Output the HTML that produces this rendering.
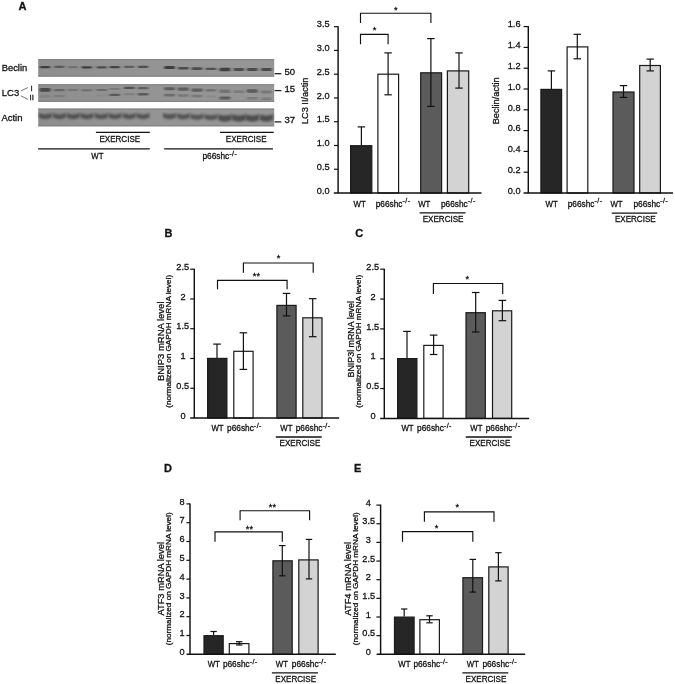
<!DOCTYPE html>
<html lang="en"><head><meta charset="utf-8"><title>Figure</title>
<style>html,body{margin:0;padding:0;background:#fff}body{width:675px;height:684px;overflow:hidden}svg{display:block}text{font-family:"Liberation Sans",Arial,Helvetica,sans-serif;stroke:#111;stroke-width:0.28px}</style>
</head><body>
<svg width="675" height="684" viewBox="0 0 675 684">
<defs>
<filter id="b1" x="-30%" y="-150%" width="160%" height="400%"><feGaussianBlur stdDeviation="1.0 0.75"/></filter>
<filter id="b2" x="-30%" y="-100%" width="160%" height="300%"><feGaussianBlur stdDeviation="0.95 0.9"/></filter>
<filter id="b0" x="-5%" y="-20%" width="110%" height="140%"><feGaussianBlur stdDeviation="0.5"/></filter>
<linearGradient id="sg" x1="0" x2="1" y1="0" y2="0"><stop offset="0" stop-color="#8d8d8d"/><stop offset="0.45" stop-color="#949494"/><stop offset="1" stop-color="#969696"/></linearGradient>
</defs>
<rect width="675" height="684" fill="#fff"/>
<text x="18.6" y="9.8" font-size="11" text-anchor="start" font-weight="bold" fill="#111" >A</text>
<text x="164.4" y="236.8" font-size="11" text-anchor="start" font-weight="bold" fill="#111" >B</text>
<text x="355.2" y="236.8" font-size="11" text-anchor="start" font-weight="bold" fill="#111" >C</text>
<text x="164" y="471.9" font-size="11" text-anchor="start" font-weight="bold" fill="#111" >D</text>
<text x="354" y="471.9" font-size="11" text-anchor="start" font-weight="bold" fill="#111" >E</text>
<g filter="url(#b0)">
<rect x="38.2" y="59.2" width="236" height="17.4" fill="url(#sg)"/>
<rect x="38.2" y="84.3" width="236" height="17.5" fill="url(#sg)"/>
<rect x="38.2" y="108.6" width="236" height="17.7" fill="url(#sg)"/>
<rect x="38.2" y="59.2" width="236" height="0.9" fill="#7c7c7c"/>
<rect x="38.2" y="75.7" width="236" height="0.9" fill="#7c7c7c"/>
<rect x="38.2" y="84.3" width="236" height="0.9" fill="#7c7c7c"/>
<rect x="38.2" y="100.9" width="236" height="0.9" fill="#7c7c7c"/>
<rect x="38.2" y="108.6" width="236" height="0.9" fill="#7c7c7c"/>
<rect x="38.2" y="125.4" width="236" height="0.9" fill="#7c7c7c"/>
</g>
<rect x="39.75" y="66.1" width="10.5" height="2.2" rx="1.1" fill="#1c1c1c" opacity="0.71" filter="url(#b1)"/>
<rect x="54.05" y="65.7" width="10.5" height="2.2" rx="1.1" fill="#1c1c1c" opacity="0.46" filter="url(#b1)"/>
<rect x="67.55" y="66.1" width="10.5" height="2.2" rx="1.1" fill="#1c1c1c" opacity="0.25" filter="url(#b1)"/>
<rect x="81.55" y="66.3" width="10.5" height="2.2" rx="1.1" fill="#1c1c1c" opacity="0.71" filter="url(#b1)"/>
<rect x="96.45" y="66.2" width="10.5" height="2.2" rx="1.1" fill="#1c1c1c" opacity="0.58" filter="url(#b1)"/>
<rect x="109.55" y="66.1" width="10.5" height="2.2" rx="1.1" fill="#1c1c1c" opacity="0.66" filter="url(#b1)"/>
<rect x="123.95" y="65.7" width="10.5" height="2.2" rx="1.1" fill="#1c1c1c" opacity="0.46" filter="url(#b1)"/>
<rect x="137.85" y="65.7" width="10.5" height="2.2" rx="1.1" fill="#1c1c1c" opacity="0.58" filter="url(#b1)"/>
<rect x="164.1" y="66.1" width="10.8" height="3" rx="1.2" fill="#1c1c1c" opacity="0.72" filter="url(#b1)"/>
<rect x="177.9" y="66.9" width="10.8" height="2.6" rx="1.2" fill="#1c1c1c" opacity="0.6" filter="url(#b1)"/>
<rect x="191.6" y="67.3" width="10.8" height="2.6" rx="1.2" fill="#1c1c1c" opacity="0.6" filter="url(#b1)"/>
<rect x="205.5" y="67.75" width="10.8" height="2.3" rx="1.15" fill="#1c1c1c" opacity="0.56" filter="url(#b1)"/>
<rect x="219.5" y="67.7" width="10.8" height="3.6" rx="1.2" fill="#1c1c1c" opacity="0.7" filter="url(#b1)"/>
<rect x="233.4" y="68.1" width="10.8" height="2.8" rx="1.2" fill="#1c1c1c" opacity="0.58" filter="url(#b1)"/>
<rect x="246.9" y="68" width="10.8" height="3" rx="1.2" fill="#1c1c1c" opacity="0.62" filter="url(#b1)"/>
<rect x="261" y="68" width="10.8" height="3" rx="1.2" fill="#1c1c1c" opacity="0.62" filter="url(#b1)"/>
<rect x="39.6" y="87.95" width="10.8" height="3.7" rx="1.2" fill="#1c1c1c" opacity="0.6" filter="url(#b1)"/>
<rect x="53.9" y="89.1" width="10.8" height="2.2" rx="1.1" fill="#1c1c1c" opacity="0.36" filter="url(#b1)"/>
<rect x="67.4" y="89.1" width="10.8" height="2" rx="1" fill="#1c1c1c" opacity="0.22" filter="url(#b1)"/>
<rect x="81.4" y="89.2" width="10.8" height="2" rx="1" fill="#1c1c1c" opacity="0.3" filter="url(#b1)"/>
<rect x="96.3" y="88.9" width="10.8" height="2" rx="1" fill="#1c1c1c" opacity="0.33" filter="url(#b1)"/>
<rect x="109.4" y="87.9" width="10.8" height="1.8" rx="0.9" fill="#1c1c1c" opacity="0.22" filter="url(#b1)"/>
<rect x="123.8" y="86.7" width="10.8" height="2.4" rx="1.2" fill="#1c1c1c" opacity="0.54" filter="url(#b1)"/>
<rect x="137.7" y="87.1" width="10.8" height="2.2" rx="1.1" fill="#1c1c1c" opacity="0.43" filter="url(#b1)"/>
<rect x="39.6" y="95.3" width="10.8" height="2" rx="1" fill="#1c1c1c" opacity="0.13" filter="url(#b1)"/>
<rect x="53.9" y="94.9" width="10.8" height="2" rx="1" fill="#1c1c1c" opacity="0.16" filter="url(#b1)"/>
<rect x="96.3" y="94.7" width="10.8" height="1.8" rx="0.9" fill="#1c1c1c" opacity="0.06" filter="url(#b1)"/>
<rect x="109.4" y="93.8" width="10.8" height="2.2" rx="1.1" fill="#1c1c1c" opacity="0.47" filter="url(#b1)"/>
<rect x="123.8" y="93.2" width="10.8" height="2" rx="1" fill="#1c1c1c" opacity="0.18" filter="url(#b1)"/>
<rect x="137.7" y="93" width="10.8" height="2.4" rx="1.2" fill="#1c1c1c" opacity="0.47" filter="url(#b1)"/>
<rect x="164" y="87.2" width="11" height="3" rx="1.2" fill="#1c1c1c" opacity="0.45" filter="url(#b1)"/>
<rect x="177.8" y="87.6" width="11" height="3.2" rx="1.2" fill="#1c1c1c" opacity="0.45" filter="url(#b1)"/>
<rect x="191.5" y="88.6" width="11" height="3.2" rx="1.2" fill="#1c1c1c" opacity="0.45" filter="url(#b1)"/>
<rect x="205.4" y="89.1" width="11" height="2.4" rx="1.2" fill="#1c1c1c" opacity="0.28" filter="url(#b1)"/>
<rect x="219.4" y="89.6" width="11" height="3.4" rx="1.2" fill="#1c1c1c" opacity="0.27" filter="url(#b1)"/>
<rect x="233.3" y="90.3" width="11" height="2.6" rx="1.2" fill="#1c1c1c" opacity="0.2" filter="url(#b1)"/>
<rect x="246.8" y="89.3" width="11" height="3.4" rx="1.2" fill="#1c1c1c" opacity="0.48" filter="url(#b1)"/>
<rect x="260.9" y="90.6" width="11" height="2.8" rx="1.2" fill="#1c1c1c" opacity="0.24" filter="url(#b1)"/>
<rect x="164" y="93.8" width="11" height="2.6" rx="1.2" fill="#1c1c1c" opacity="0.32" filter="url(#b1)"/>
<rect x="177.8" y="94.3" width="11" height="2.4" rx="1.2" fill="#1c1c1c" opacity="0.23" filter="url(#b1)"/>
<rect x="191.5" y="94.8" width="11" height="2.4" rx="1.2" fill="#1c1c1c" opacity="0.24" filter="url(#b1)"/>
<rect x="205.4" y="95.5" width="11" height="2" rx="1" fill="#1c1c1c" opacity="0.09" filter="url(#b1)"/>
<rect x="219.4" y="96.5" width="11" height="3" rx="1.2" fill="#1c1c1c" opacity="0.46" filter="url(#b1)"/>
<rect x="246.8" y="97" width="11" height="2.6" rx="1.2" fill="#1c1c1c" opacity="0.22" filter="url(#b1)"/>
<rect x="260.9" y="97.4" width="11" height="2.6" rx="1.2" fill="#1c1c1c" opacity="0.2" filter="url(#b1)"/>
<path d="M38.8 113.1 Q45.3 115.7 51.8 113.1 L51.8 117.6 Q45.3 120.9 38.8 117.6 Z" fill="#262626" opacity="0.58" filter="url(#b2)"/>
<path d="M52.9 113.1 Q59.4 115.7 65.9 113.1 L65.9 117.6 Q59.4 120.9 52.9 117.6 Z" fill="#262626" opacity="0.58" filter="url(#b2)"/>
<path d="M66.7 113.1 Q73.2 115.7 79.7 113.1 L79.7 117.6 Q73.2 120.9 66.7 117.6 Z" fill="#262626" opacity="0.58" filter="url(#b2)"/>
<path d="M80.5 113.1 Q87 115.7 93.5 113.1 L93.5 117.6 Q87 120.9 80.5 117.6 Z" fill="#262626" opacity="0.58" filter="url(#b2)"/>
<path d="M94.7 113.1 Q101.2 115.7 107.7 113.1 L107.7 117.6 Q101.2 120.9 94.7 117.6 Z" fill="#262626" opacity="0.58" filter="url(#b2)"/>
<path d="M108.5 113.1 Q115 115.7 121.5 113.1 L121.5 117.6 Q115 120.9 108.5 117.6 Z" fill="#262626" opacity="0.58" filter="url(#b2)"/>
<path d="M122.7 113.1 Q129.2 115.7 135.7 113.1 L135.7 117.6 Q129.2 120.9 122.7 117.6 Z" fill="#262626" opacity="0.58" filter="url(#b2)"/>
<path d="M136.5 113.1 Q143 115.7 149.5 113.1 L149.5 117.6 Q143 120.9 136.5 117.6 Z" fill="#262626" opacity="0.58" filter="url(#b2)"/>
<path d="M163 113 Q169.5 115.6 176 113 L176 117.5 Q169.5 120.8 163 117.5 Z" fill="#262626" opacity="0.58" filter="url(#b2)"/>
<path d="M176.8 113.35 Q183.3 115.95 189.8 113.35 L189.8 117.85 Q183.3 121.15 176.8 117.85 Z" fill="#262626" opacity="0.58" filter="url(#b2)"/>
<path d="M190.5 113.7 Q197 116.3 203.5 113.7 L203.5 118.2 Q197 121.5 190.5 118.2 Z" fill="#262626" opacity="0.58" filter="url(#b2)"/>
<path d="M204.4 114.05 Q210.9 116.65 217.4 114.05 L217.4 118.55 Q210.9 121.85 204.4 118.55 Z" fill="#262626" opacity="0.58" filter="url(#b2)"/>
<path d="M218.2 114.3 Q224.9 116.9 231.6 114.3 L231.6 120 Q224.9 123.3 218.2 120 Z" fill="#262626" opacity="0.64" filter="url(#b2)"/>
<path d="M232.1 114.3 Q238.8 116.9 245.5 114.3 L245.5 120 Q238.8 123.3 232.1 120 Z" fill="#262626" opacity="0.64" filter="url(#b2)"/>
<path d="M245.6 114.3 Q252.3 116.9 259 114.3 L259 120 Q252.3 123.3 245.6 120 Z" fill="#262626" opacity="0.64" filter="url(#b2)"/>
<path d="M259.7 114.3 Q266.4 116.9 273.1 114.3 L273.1 120 Q266.4 123.3 259.7 120 Z" fill="#262626" opacity="0.64" filter="url(#b2)"/>
<line x1="274.6" y1="73.7" x2="281.4" y2="73.7" stroke="#222" stroke-width="1.3" />
<text x="284.5" y="74.8" font-size="9.6" text-anchor="start" font-weight="normal" fill="#111" >50</text>
<line x1="274.6" y1="90.6" x2="281.4" y2="90.6" stroke="#222" stroke-width="1.3" />
<text x="284.5" y="91.7" font-size="9.6" text-anchor="start" font-weight="normal" fill="#111" >15</text>
<line x1="274.6" y1="121.9" x2="281.4" y2="121.9" stroke="#222" stroke-width="1.3" />
<text x="284.5" y="123" font-size="9.6" text-anchor="start" font-weight="normal" fill="#111" >37</text>
<text x="1.7" y="71.3" font-size="9.4" text-anchor="start" font-weight="normal" fill="#111" >Beclin</text>
<text x="1.8" y="95.8" font-size="9.5" text-anchor="start" font-weight="normal" fill="#111" >LC3</text>
<text x="1.4" y="120.7" font-size="9.5" text-anchor="start" font-weight="normal" fill="#111" >Actin</text>
<line x1="20.9" y1="91" x2="28" y2="87.5" stroke="#444" stroke-width="0.75" />
<line x1="20.9" y1="95.8" x2="28" y2="99.4" stroke="#444" stroke-width="0.75" />
<text x="30.6" y="91.2" font-size="7.8" text-anchor="start" font-weight="normal" fill="#111" stroke-width="0.55">I</text>
<text x="29.6" y="99.9" font-size="7.8" text-anchor="start" font-weight="normal" fill="#111" stroke-width="0.55">II</text>
<line x1="95.9" y1="132.3" x2="149.8" y2="132.3" stroke="#111" stroke-width="1.3" />
<text x="119.8" y="142.3" font-size="8.5" text-anchor="middle" textLength="40.8" lengthAdjust="spacingAndGlyphs" fill="#111">EXERCISE</text>
<line x1="220.1" y1="132.3" x2="273.7" y2="132.3" stroke="#111" stroke-width="1.3" />
<text x="246.2" y="142.3" font-size="8.5" text-anchor="middle" textLength="40.8" lengthAdjust="spacingAndGlyphs" fill="#111">EXERCISE</text>
<line x1="38.1" y1="148.9" x2="149.8" y2="148.9" stroke="#111" stroke-width="1.3" />
<line x1="164.2" y1="148.9" x2="272.9" y2="148.9" stroke="#111" stroke-width="1.3" />
<text x="91.3" y="158.7" font-size="8.6" textLength="12.2" lengthAdjust="spacingAndGlyphs" fill="#111">WT</text>
<text x="202.5" y="158.7" font-size="8.3" text-anchor="start" fill="#111">p66shc<tspan font-size="7" dy="-3.1" dx="0" letter-spacing="0.45">-/-</tspan></text>
<rect x="350.6" y="145.7" width="21.2" height="47.3" fill="#262626" stroke="#1a1a1a" stroke-width="1.2"/>
<rect x="377.9" y="74.2" width="20.7" height="118.8" fill="#ffffff" stroke="#1a1a1a" stroke-width="1.2"/>
<rect x="420.7" y="72.8" width="20.9" height="120.2" fill="#5b5b5b" stroke="#1a1a1a" stroke-width="1.2"/>
<rect x="447.4" y="70.9" width="21.3" height="122.1" fill="#d3d3d3" stroke="#1a1a1a" stroke-width="1.2"/>
<line x1="361.4" y1="126.9" x2="361.4" y2="145.2" stroke="#111" stroke-width="1.2" />
<line x1="357.7" y1="126.9" x2="365.1" y2="126.9" stroke="#111" stroke-width="1.2" />
<line x1="388.1" y1="52.9" x2="388.1" y2="94.8" stroke="#111" stroke-width="1.2" />
<line x1="384.4" y1="52.9" x2="391.8" y2="52.9" stroke="#111" stroke-width="1.2" />
<line x1="384.4" y1="94.8" x2="391.8" y2="94.8" stroke="#111" stroke-width="1.2" />
<line x1="430.9" y1="38.6" x2="430.9" y2="106.4" stroke="#111" stroke-width="1.2" />
<line x1="427.2" y1="38.6" x2="434.6" y2="38.6" stroke="#111" stroke-width="1.2" />
<line x1="427.2" y1="106.4" x2="434.6" y2="106.4" stroke="#111" stroke-width="1.2" />
<line x1="459" y1="52.9" x2="459" y2="88.1" stroke="#111" stroke-width="1.2" />
<line x1="455.3" y1="52.9" x2="462.7" y2="52.9" stroke="#111" stroke-width="1.2" />
<line x1="455.3" y1="88.1" x2="462.7" y2="88.1" stroke="#111" stroke-width="1.2" />
<line x1="338.1" y1="26.18" x2="338.1" y2="193" stroke="#111" stroke-width="1.45" />
<line x1="333.8" y1="193" x2="481.5" y2="193" stroke="#111" stroke-width="1.45" />
<text x="329.6" y="193.7" font-size="9.2" text-anchor="end" font-weight="normal" fill="#111" >0.0</text>
<line x1="334" y1="169.24" x2="338.1" y2="169.24" stroke="#111" stroke-width="1.2" />
<text x="329.6" y="169.94" font-size="9.2" text-anchor="end" font-weight="normal" fill="#111" >0.5</text>
<line x1="334" y1="145.48" x2="338.1" y2="145.48" stroke="#111" stroke-width="1.2" />
<text x="329.6" y="146.18" font-size="9.2" text-anchor="end" font-weight="normal" fill="#111" >1.0</text>
<line x1="334" y1="121.72" x2="338.1" y2="121.72" stroke="#111" stroke-width="1.2" />
<text x="329.6" y="122.42" font-size="9.2" text-anchor="end" font-weight="normal" fill="#111" >1.5</text>
<line x1="334" y1="97.96" x2="338.1" y2="97.96" stroke="#111" stroke-width="1.2" />
<text x="329.6" y="98.66" font-size="9.2" text-anchor="end" font-weight="normal" fill="#111" >2.0</text>
<line x1="334" y1="74.2" x2="338.1" y2="74.2" stroke="#111" stroke-width="1.2" />
<text x="329.6" y="74.9" font-size="9.2" text-anchor="end" font-weight="normal" fill="#111" >2.5</text>
<line x1="334" y1="50.44" x2="338.1" y2="50.44" stroke="#111" stroke-width="1.2" />
<text x="329.6" y="51.14" font-size="9.2" text-anchor="end" font-weight="normal" fill="#111" >3.0</text>
<line x1="334" y1="26.68" x2="338.1" y2="26.68" stroke="#111" stroke-width="1.2" />
<text x="329.6" y="27.38" font-size="9.2" text-anchor="end" font-weight="normal" fill="#111" >3.5</text>
<path d="M360.5 23.1 V13.2 H430.9 V23.1" fill="none" stroke="#111" stroke-width="1.15"/>
<text x="395.7" y="13.28" font-size="9.2" text-anchor="middle" font-weight="normal" fill="#111" >*</text>
<path d="M360.5 44.2 V34.3 H388.1 V44.2" fill="none" stroke="#111" stroke-width="1.15"/>
<text x="374.6" y="32.98" font-size="9.2" text-anchor="middle" font-weight="normal" fill="#111" >*</text>
<text transform="translate(307.7 100.8) rotate(-90)" font-size="9.8" text-anchor="middle" fill="#111" textLength="46.6" lengthAdjust="spacingAndGlyphs">LC3 II/actin</text>
<text x="353.5" y="206.5" font-size="8.6" textLength="12.2" lengthAdjust="spacingAndGlyphs" fill="#111">WT</text>
<text x="375.7" y="206.5" font-size="8.3" text-anchor="start" fill="#111">p66shc<tspan font-size="7" dy="-3.1" dx="0" letter-spacing="0.45">-/-</tspan></text>
<text x="418.2" y="206.5" font-size="8.6" textLength="12.2" lengthAdjust="spacingAndGlyphs" fill="#111">WT</text>
<text x="441" y="206.5" font-size="8.3" text-anchor="start" fill="#111">p66shc<tspan font-size="7" dy="-3.1" dx="0" letter-spacing="0.45">-/-</tspan></text>
<line x1="419.6" y1="212.9" x2="465.5" y2="212.9" stroke="#111" stroke-width="1.3" />
<text x="443.1" y="222" font-size="8.5" text-anchor="middle" textLength="40.8" lengthAdjust="spacingAndGlyphs" fill="#111">EXERCISE</text>
<rect x="540.9" y="89.4" width="20.7" height="103.6" fill="#262626" stroke="#1a1a1a" stroke-width="1.2"/>
<rect x="567.1" y="46.9" width="20.7" height="146.1" fill="#ffffff" stroke="#1a1a1a" stroke-width="1.2"/>
<rect x="613" y="92" width="21" height="101" fill="#5b5b5b" stroke="#1a1a1a" stroke-width="1.2"/>
<rect x="639.7" y="65.5" width="20.7" height="127.5" fill="#d3d3d3" stroke="#1a1a1a" stroke-width="1.2"/>
<line x1="551.4" y1="70.9" x2="551.4" y2="88.9" stroke="#111" stroke-width="1.2" />
<line x1="547.7" y1="70.9" x2="555.1" y2="70.9" stroke="#111" stroke-width="1.2" />
<line x1="577.3" y1="34.3" x2="577.3" y2="58.8" stroke="#111" stroke-width="1.2" />
<line x1="573.6" y1="34.3" x2="581" y2="34.3" stroke="#111" stroke-width="1.2" />
<line x1="573.6" y1="58.8" x2="581" y2="58.8" stroke="#111" stroke-width="1.2" />
<line x1="623.5" y1="85.6" x2="623.5" y2="97.4" stroke="#111" stroke-width="1.2" />
<line x1="619.8" y1="85.6" x2="627.2" y2="85.6" stroke="#111" stroke-width="1.2" />
<line x1="619.8" y1="97.4" x2="627.2" y2="97.4" stroke="#111" stroke-width="1.2" />
<line x1="650.2" y1="59.1" x2="650.2" y2="70.9" stroke="#111" stroke-width="1.2" />
<line x1="646.5" y1="59.1" x2="653.9" y2="59.1" stroke="#111" stroke-width="1.2" />
<line x1="646.5" y1="70.9" x2="653.9" y2="70.9" stroke="#111" stroke-width="1.2" />
<line x1="528.3" y1="26.1" x2="528.3" y2="193" stroke="#111" stroke-width="1.45" />
<line x1="523.6" y1="193" x2="673" y2="193" stroke="#111" stroke-width="1.45" />
<text x="520.5" y="193.7" font-size="9.2" text-anchor="end" font-weight="normal" fill="#111" >0.0</text>
<line x1="523.6" y1="172.2" x2="528.3" y2="172.2" stroke="#111" stroke-width="1.2" />
<text x="520.5" y="172.9" font-size="9.2" text-anchor="end" font-weight="normal" fill="#111" >0.2</text>
<line x1="523.6" y1="151.4" x2="528.3" y2="151.4" stroke="#111" stroke-width="1.2" />
<text x="520.5" y="152.1" font-size="9.2" text-anchor="end" font-weight="normal" fill="#111" >0.4</text>
<line x1="523.6" y1="130.6" x2="528.3" y2="130.6" stroke="#111" stroke-width="1.2" />
<text x="520.5" y="131.3" font-size="9.2" text-anchor="end" font-weight="normal" fill="#111" >0.6</text>
<line x1="523.6" y1="109.8" x2="528.3" y2="109.8" stroke="#111" stroke-width="1.2" />
<text x="520.5" y="110.5" font-size="9.2" text-anchor="end" font-weight="normal" fill="#111" >0.8</text>
<line x1="523.6" y1="89" x2="528.3" y2="89" stroke="#111" stroke-width="1.2" />
<text x="520.5" y="89.7" font-size="9.2" text-anchor="end" font-weight="normal" fill="#111" >1.0</text>
<line x1="523.6" y1="68.2" x2="528.3" y2="68.2" stroke="#111" stroke-width="1.2" />
<text x="520.5" y="68.9" font-size="9.2" text-anchor="end" font-weight="normal" fill="#111" >1.2</text>
<line x1="523.6" y1="47.4" x2="528.3" y2="47.4" stroke="#111" stroke-width="1.2" />
<text x="520.5" y="48.1" font-size="9.2" text-anchor="end" font-weight="normal" fill="#111" >1.4</text>
<line x1="523.6" y1="26.6" x2="528.3" y2="26.6" stroke="#111" stroke-width="1.2" />
<text x="520.5" y="27.3" font-size="9.2" text-anchor="end" font-weight="normal" fill="#111" >1.6</text>
<text transform="translate(498.5 100.8) rotate(-90)" font-size="9.8" text-anchor="middle" fill="#111" textLength="47" lengthAdjust="spacingAndGlyphs">Beclin/actin</text>
<text x="545.5" y="206.5" font-size="8.6" textLength="12.2" lengthAdjust="spacingAndGlyphs" fill="#111">WT</text>
<text x="567.7" y="206.5" font-size="8.3" text-anchor="start" fill="#111">p66shc<tspan font-size="7" dy="-3.1" dx="0" letter-spacing="0.45">-/-</tspan></text>
<text x="610.4" y="206.5" font-size="8.6" textLength="12.2" lengthAdjust="spacingAndGlyphs" fill="#111">WT</text>
<text x="633.5" y="206.5" font-size="8.3" text-anchor="start" fill="#111">p66shc<tspan font-size="7" dy="-3.1" dx="0" letter-spacing="0.45">-/-</tspan></text>
<line x1="611.7" y1="213.1" x2="657.2" y2="213.1" stroke="#111" stroke-width="1.3" />
<text x="635.3" y="222" font-size="8.5" text-anchor="middle" textLength="40.8" lengthAdjust="spacingAndGlyphs" fill="#111">EXERCISE</text>
<rect x="207.6" y="358.4" width="19.3" height="59.6" fill="#262626" stroke="#1a1a1a" stroke-width="1.2"/>
<rect x="233.8" y="351.3" width="19.3" height="66.7" fill="#ffffff" stroke="#1a1a1a" stroke-width="1.2"/>
<rect x="276.9" y="305.4" width="19.2" height="112.6" fill="#5b5b5b" stroke="#1a1a1a" stroke-width="1.2"/>
<rect x="302.8" y="317.8" width="19.2" height="100.2" fill="#d3d3d3" stroke="#1a1a1a" stroke-width="1.2"/>
<line x1="217" y1="344.1" x2="217" y2="357.9" stroke="#111" stroke-width="1.2" />
<line x1="213.2" y1="344.1" x2="220.8" y2="344.1" stroke="#111" stroke-width="1.2" />
<line x1="243.4" y1="332.8" x2="243.4" y2="369.4" stroke="#111" stroke-width="1.2" />
<line x1="239.6" y1="332.8" x2="247.2" y2="332.8" stroke="#111" stroke-width="1.2" />
<line x1="239.6" y1="369.4" x2="247.2" y2="369.4" stroke="#111" stroke-width="1.2" />
<line x1="286.5" y1="293.4" x2="286.5" y2="315.9" stroke="#111" stroke-width="1.2" />
<line x1="282.7" y1="293.4" x2="290.3" y2="293.4" stroke="#111" stroke-width="1.2" />
<line x1="282.7" y1="315.9" x2="290.3" y2="315.9" stroke="#111" stroke-width="1.2" />
<line x1="312.7" y1="298.7" x2="312.7" y2="336.7" stroke="#111" stroke-width="1.2" />
<line x1="308.9" y1="298.7" x2="316.5" y2="298.7" stroke="#111" stroke-width="1.2" />
<line x1="308.9" y1="336.7" x2="316.5" y2="336.7" stroke="#111" stroke-width="1.2" />
<line x1="194.3" y1="268.7" x2="194.3" y2="418" stroke="#111" stroke-width="1.45" />
<line x1="190.2" y1="418" x2="339.1" y2="418" stroke="#111" stroke-width="1.45" />
<text x="185.7" y="418.7" font-size="9.2" text-anchor="end" font-weight="normal" fill="#111" >0</text>
<line x1="190.2" y1="388.24" x2="194.3" y2="388.24" stroke="#111" stroke-width="1.2" />
<text x="189.1" y="388.94" font-size="9.2" text-anchor="end" font-weight="normal" fill="#111" >0.5</text>
<line x1="190.2" y1="358.48" x2="194.3" y2="358.48" stroke="#111" stroke-width="1.2" />
<text x="185.7" y="359.18" font-size="9.2" text-anchor="end" font-weight="normal" fill="#111" >1</text>
<line x1="190.2" y1="328.72" x2="194.3" y2="328.72" stroke="#111" stroke-width="1.2" />
<text x="189.1" y="329.42" font-size="9.2" text-anchor="end" font-weight="normal" fill="#111" >1.5</text>
<line x1="190.2" y1="298.96" x2="194.3" y2="298.96" stroke="#111" stroke-width="1.2" />
<text x="185.7" y="299.66" font-size="9.2" text-anchor="end" font-weight="normal" fill="#111" >2</text>
<line x1="190.2" y1="269.2" x2="194.3" y2="269.2" stroke="#111" stroke-width="1.2" />
<text x="189.1" y="269.9" font-size="9.2" text-anchor="end" font-weight="normal" fill="#111" >2.5</text>
<text transform="translate(164 341.3) rotate(-90)" font-size="9.7" text-anchor="middle" fill="#111" textLength="79.6" lengthAdjust="spacingAndGlyphs">BNIP3 mRNA level</text>
<text transform="translate(171.3 341.3) rotate(-90)" font-size="7.7" text-anchor="middle" fill="#111" textLength="132.9" lengthAdjust="spacingAndGlyphs">(normalized on GAPDH mRNA level)</text>
<path d="M243.4 272.8 V263 H313.2 V272.8" fill="none" stroke="#111" stroke-width="1.15"/>
<text x="278.6" y="261.38" font-size="9.2" text-anchor="middle" font-weight="normal" fill="#111" >*</text>
<path d="M217.5 289.2 V280.4 H287.1 V289.2" fill="none" stroke="#111" stroke-width="1.15"/>
<text x="256.4" y="278.78" font-size="9.2" text-anchor="middle" font-weight="normal" fill="#111" >**</text>
<text x="211.4" y="431.3" font-size="8.6" textLength="12.2" lengthAdjust="spacingAndGlyphs" fill="#111">WT</text>
<text x="227.1" y="431.3" font-size="8.3" text-anchor="start" fill="#111">p66shc<tspan font-size="7" dy="-3.1" dx="0" letter-spacing="0.45">-/-</tspan></text>
<text x="280.3" y="431.3" font-size="8.6" textLength="12.2" lengthAdjust="spacingAndGlyphs" fill="#111">WT</text>
<text x="295.7" y="431.3" font-size="8.3" text-anchor="start" fill="#111">p66shc<tspan font-size="7" dy="-3.1" dx="0" letter-spacing="0.45">-/-</tspan></text>
<line x1="275.8" y1="437" x2="321.7" y2="437" stroke="#111" stroke-width="1.3" />
<text x="299.9" y="446" font-size="8.5" text-anchor="middle" textLength="40.8" lengthAdjust="spacingAndGlyphs" fill="#111">EXERCISE</text>
<rect x="397.6" y="358.6" width="19.3" height="59.8" fill="#262626" stroke="#1a1a1a" stroke-width="1.2"/>
<rect x="423.8" y="345.4" width="19.3" height="73" fill="#ffffff" stroke="#1a1a1a" stroke-width="1.2"/>
<rect x="466" y="312.7" width="19.3" height="105.7" fill="#5b5b5b" stroke="#1a1a1a" stroke-width="1.2"/>
<rect x="492.5" y="310.8" width="19.2" height="107.6" fill="#d3d3d3" stroke="#1a1a1a" stroke-width="1.2"/>
<line x1="407" y1="331.4" x2="407" y2="358.1" stroke="#111" stroke-width="1.2" />
<line x1="403.2" y1="331.4" x2="410.8" y2="331.4" stroke="#111" stroke-width="1.2" />
<line x1="433.6" y1="335.1" x2="433.6" y2="354.5" stroke="#111" stroke-width="1.2" />
<line x1="429.8" y1="335.1" x2="437.4" y2="335.1" stroke="#111" stroke-width="1.2" />
<line x1="429.8" y1="354.5" x2="437.4" y2="354.5" stroke="#111" stroke-width="1.2" />
<line x1="475.7" y1="292.5" x2="475.7" y2="332" stroke="#111" stroke-width="1.2" />
<line x1="471.9" y1="292.5" x2="479.5" y2="292.5" stroke="#111" stroke-width="1.2" />
<line x1="471.9" y1="332" x2="479.5" y2="332" stroke="#111" stroke-width="1.2" />
<line x1="502.4" y1="300.4" x2="502.4" y2="320.7" stroke="#111" stroke-width="1.2" />
<line x1="498.6" y1="300.4" x2="506.2" y2="300.4" stroke="#111" stroke-width="1.2" />
<line x1="498.6" y1="320.7" x2="506.2" y2="320.7" stroke="#111" stroke-width="1.2" />
<line x1="384.3" y1="268.7" x2="384.3" y2="418.4" stroke="#111" stroke-width="1.45" />
<line x1="380.2" y1="418.4" x2="529.1" y2="418.4" stroke="#111" stroke-width="1.45" />
<text x="375.7" y="419.1" font-size="9.2" text-anchor="end" font-weight="normal" fill="#111" >0</text>
<line x1="380.2" y1="388.56" x2="384.3" y2="388.56" stroke="#111" stroke-width="1.2" />
<text x="379.1" y="389.26" font-size="9.2" text-anchor="end" font-weight="normal" fill="#111" >0.5</text>
<line x1="380.2" y1="358.72" x2="384.3" y2="358.72" stroke="#111" stroke-width="1.2" />
<text x="375.7" y="359.42" font-size="9.2" text-anchor="end" font-weight="normal" fill="#111" >1</text>
<line x1="380.2" y1="328.88" x2="384.3" y2="328.88" stroke="#111" stroke-width="1.2" />
<text x="379.1" y="329.58" font-size="9.2" text-anchor="end" font-weight="normal" fill="#111" >1.5</text>
<line x1="380.2" y1="299.04" x2="384.3" y2="299.04" stroke="#111" stroke-width="1.2" />
<text x="375.7" y="299.74" font-size="9.2" text-anchor="end" font-weight="normal" fill="#111" >2</text>
<line x1="380.2" y1="269.2" x2="384.3" y2="269.2" stroke="#111" stroke-width="1.2" />
<text x="379.1" y="269.9" font-size="9.2" text-anchor="end" font-weight="normal" fill="#111" >2.5</text>
<text transform="translate(354 339.3) rotate(-90)" font-size="9.7" text-anchor="middle" fill="#111" textLength="76.4" lengthAdjust="spacingAndGlyphs">BNIP3l mRNA level</text>
<text transform="translate(361.3 341.3) rotate(-90)" font-size="7.7" text-anchor="middle" fill="#111" textLength="132.9" lengthAdjust="spacingAndGlyphs">(normalized on GAPDH mRNA level)</text>
<path d="M433.4 294 V283.5 H502.7 V294" fill="none" stroke="#111" stroke-width="1.15"/>
<text x="467.2" y="282.38" font-size="9.2" text-anchor="middle" font-weight="normal" fill="#111" >*</text>
<text x="401.4" y="431.3" font-size="8.6" textLength="12.2" lengthAdjust="spacingAndGlyphs" fill="#111">WT</text>
<text x="417.1" y="431.3" font-size="8.3" text-anchor="start" fill="#111">p66shc<tspan font-size="7" dy="-3.1" dx="0" letter-spacing="0.45">-/-</tspan></text>
<text x="470.3" y="431.3" font-size="8.6" textLength="12.2" lengthAdjust="spacingAndGlyphs" fill="#111">WT</text>
<text x="485.7" y="431.3" font-size="8.3" text-anchor="start" fill="#111">p66shc<tspan font-size="7" dy="-3.1" dx="0" letter-spacing="0.45">-/-</tspan></text>
<line x1="465.8" y1="437" x2="511.7" y2="437" stroke="#111" stroke-width="1.3" />
<text x="489.9" y="446" font-size="8.5" text-anchor="middle" textLength="40.8" lengthAdjust="spacingAndGlyphs" fill="#111">EXERCISE</text>
<rect x="204" y="635.7" width="19.2" height="18.6" fill="#262626" stroke="#1a1a1a" stroke-width="1.2"/>
<rect x="229.3" y="643.6" width="19.6" height="10.7" fill="#ffffff" stroke="#1a1a1a" stroke-width="1.2"/>
<rect x="272.9" y="560.8" width="19.3" height="93.5" fill="#5b5b5b" stroke="#1a1a1a" stroke-width="1.2"/>
<rect x="298.8" y="559.9" width="19.3" height="94.4" fill="#d3d3d3" stroke="#1a1a1a" stroke-width="1.2"/>
<line x1="213.6" y1="631.5" x2="213.6" y2="635.2" stroke="#111" stroke-width="1.2" />
<line x1="210.4" y1="631.5" x2="216.8" y2="631.5" stroke="#111" stroke-width="1.2" />
<line x1="239.2" y1="641.7" x2="239.2" y2="645" stroke="#111" stroke-width="1.2" />
<line x1="236" y1="641.7" x2="242.4" y2="641.7" stroke="#111" stroke-width="1.2" />
<line x1="236" y1="645" x2="242.4" y2="645" stroke="#111" stroke-width="1.2" />
<line x1="282.3" y1="545.6" x2="282.3" y2="575.8" stroke="#111" stroke-width="1.2" />
<line x1="279.1" y1="545.6" x2="285.5" y2="545.6" stroke="#111" stroke-width="1.2" />
<line x1="279.1" y1="575.8" x2="285.5" y2="575.8" stroke="#111" stroke-width="1.2" />
<line x1="309" y1="539.4" x2="309" y2="578.9" stroke="#111" stroke-width="1.2" />
<line x1="305.8" y1="539.4" x2="312.2" y2="539.4" stroke="#111" stroke-width="1.2" />
<line x1="305.8" y1="578.9" x2="312.2" y2="578.9" stroke="#111" stroke-width="1.2" />
<line x1="190" y1="503.4" x2="190" y2="654.3" stroke="#111" stroke-width="1.45" />
<line x1="186.6" y1="654.3" x2="335.8" y2="654.3" stroke="#111" stroke-width="1.45" />
<text x="184.5" y="655" font-size="9.2" text-anchor="end" font-weight="normal" fill="#111" >0</text>
<line x1="186.4" y1="635.5" x2="190" y2="635.5" stroke="#111" stroke-width="1.2" />
<text x="184.5" y="636.2" font-size="9.2" text-anchor="end" font-weight="normal" fill="#111" >1</text>
<line x1="186.4" y1="616.7" x2="190" y2="616.7" stroke="#111" stroke-width="1.2" />
<text x="184.5" y="617.4" font-size="9.2" text-anchor="end" font-weight="normal" fill="#111" >2</text>
<line x1="186.4" y1="597.9" x2="190" y2="597.9" stroke="#111" stroke-width="1.2" />
<text x="184.5" y="598.6" font-size="9.2" text-anchor="end" font-weight="normal" fill="#111" >3</text>
<line x1="186.4" y1="579.1" x2="190" y2="579.1" stroke="#111" stroke-width="1.2" />
<text x="184.5" y="579.8" font-size="9.2" text-anchor="end" font-weight="normal" fill="#111" >4</text>
<line x1="186.4" y1="560.3" x2="190" y2="560.3" stroke="#111" stroke-width="1.2" />
<text x="184.5" y="561" font-size="9.2" text-anchor="end" font-weight="normal" fill="#111" >5</text>
<line x1="186.4" y1="541.5" x2="190" y2="541.5" stroke="#111" stroke-width="1.2" />
<text x="184.5" y="542.2" font-size="9.2" text-anchor="end" font-weight="normal" fill="#111" >6</text>
<line x1="186.4" y1="522.7" x2="190" y2="522.7" stroke="#111" stroke-width="1.2" />
<text x="184.5" y="523.4" font-size="9.2" text-anchor="end" font-weight="normal" fill="#111" >7</text>
<line x1="186.4" y1="503.9" x2="190" y2="503.9" stroke="#111" stroke-width="1.2" />
<text x="184.5" y="504.6" font-size="9.2" text-anchor="end" font-weight="normal" fill="#111" >8</text>
<text transform="translate(164 578.8) rotate(-90)" font-size="9.7" text-anchor="middle" fill="#111" textLength="73.6" lengthAdjust="spacingAndGlyphs">ATF3 mRNA level</text>
<text transform="translate(171.3 578.8) rotate(-90)" font-size="7.7" text-anchor="middle" fill="#111" textLength="132.9" lengthAdjust="spacingAndGlyphs">(normalized on GAPDH mRNA level)</text>
<path d="M240.1 520.3 V510.7 H309.6 V520.3" fill="none" stroke="#111" stroke-width="1.15"/>
<text x="272.4" y="510.18" font-size="9.2" text-anchor="middle" font-weight="normal" fill="#111" >**</text>
<path d="M215 541.7 V531.8 H282.3 V541.7" fill="none" stroke="#111" stroke-width="1.15"/>
<text x="249.4" y="531.58" font-size="9.2" text-anchor="middle" font-weight="normal" fill="#111" >**</text>
<text x="207.7" y="666.6" font-size="8.6" textLength="12.2" lengthAdjust="spacingAndGlyphs" fill="#111">WT</text>
<text x="222.9" y="666.6" font-size="8.3" text-anchor="start" fill="#111">p66shc<tspan font-size="7" dy="-3.1" dx="0" letter-spacing="0.45">-/-</tspan></text>
<text x="275.8" y="666.6" font-size="8.6" textLength="12.2" lengthAdjust="spacingAndGlyphs" fill="#111">WT</text>
<text x="291.8" y="666.6" font-size="8.3" text-anchor="start" fill="#111">p66shc<tspan font-size="7" dy="-3.1" dx="0" letter-spacing="0.45">-/-</tspan></text>
<line x1="271.9" y1="672.9" x2="318" y2="672.9" stroke="#111" stroke-width="1.3" />
<text x="295.65" y="681.8" font-size="8.5" text-anchor="middle" textLength="40.8" lengthAdjust="spacingAndGlyphs" fill="#111">EXERCISE</text>
<rect x="394.5" y="617.1" width="19.6" height="37.2" fill="#262626" stroke="#1a1a1a" stroke-width="1.2"/>
<rect x="419.9" y="619.7" width="19.5" height="34.6" fill="#ffffff" stroke="#1a1a1a" stroke-width="1.2"/>
<rect x="462.9" y="577.7" width="19.6" height="76.6" fill="#5b5b5b" stroke="#1a1a1a" stroke-width="1.2"/>
<rect x="488.8" y="566.9" width="19.3" height="87.4" fill="#d3d3d3" stroke="#1a1a1a" stroke-width="1.2"/>
<line x1="404.2" y1="609" x2="404.2" y2="616.6" stroke="#111" stroke-width="1.2" />
<line x1="401" y1="609" x2="407.4" y2="609" stroke="#111" stroke-width="1.2" />
<line x1="429.5" y1="615.8" x2="429.5" y2="622.8" stroke="#111" stroke-width="1.2" />
<line x1="426.3" y1="615.8" x2="432.7" y2="615.8" stroke="#111" stroke-width="1.2" />
<line x1="426.3" y1="622.8" x2="432.7" y2="622.8" stroke="#111" stroke-width="1.2" />
<line x1="472.8" y1="559.4" x2="472.8" y2="592.1" stroke="#111" stroke-width="1.2" />
<line x1="469.6" y1="559.4" x2="476" y2="559.4" stroke="#111" stroke-width="1.2" />
<line x1="469.6" y1="592.1" x2="476" y2="592.1" stroke="#111" stroke-width="1.2" />
<line x1="498.4" y1="552.7" x2="498.4" y2="580.9" stroke="#111" stroke-width="1.2" />
<line x1="495.2" y1="552.7" x2="501.6" y2="552.7" stroke="#111" stroke-width="1.2" />
<line x1="495.2" y1="580.9" x2="501.6" y2="580.9" stroke="#111" stroke-width="1.2" />
<line x1="380.6" y1="504.6" x2="380.6" y2="654.3" stroke="#111" stroke-width="1.45" />
<line x1="376.6" y1="654.3" x2="525.2" y2="654.3" stroke="#111" stroke-width="1.45" />
<text x="370.9" y="655" font-size="9.2" text-anchor="end" font-weight="normal" fill="#111" >0</text>
<line x1="376.4" y1="635.65" x2="380.6" y2="635.65" stroke="#111" stroke-width="1.2" />
<text x="375.1" y="636.35" font-size="9.2" text-anchor="end" font-weight="normal" fill="#111" >0.5</text>
<line x1="376.4" y1="617" x2="380.6" y2="617" stroke="#111" stroke-width="1.2" />
<text x="370.9" y="617.7" font-size="9.2" text-anchor="end" font-weight="normal" fill="#111" >1</text>
<line x1="376.4" y1="598.35" x2="380.6" y2="598.35" stroke="#111" stroke-width="1.2" />
<text x="375.1" y="599.05" font-size="9.2" text-anchor="end" font-weight="normal" fill="#111" >1.5</text>
<line x1="376.4" y1="579.7" x2="380.6" y2="579.7" stroke="#111" stroke-width="1.2" />
<text x="370.9" y="580.4" font-size="9.2" text-anchor="end" font-weight="normal" fill="#111" >2</text>
<line x1="376.4" y1="561.05" x2="380.6" y2="561.05" stroke="#111" stroke-width="1.2" />
<text x="375.1" y="561.75" font-size="9.2" text-anchor="end" font-weight="normal" fill="#111" >2.5</text>
<line x1="376.4" y1="542.4" x2="380.6" y2="542.4" stroke="#111" stroke-width="1.2" />
<text x="370.9" y="543.1" font-size="9.2" text-anchor="end" font-weight="normal" fill="#111" >3</text>
<line x1="376.4" y1="523.75" x2="380.6" y2="523.75" stroke="#111" stroke-width="1.2" />
<text x="375.1" y="524.45" font-size="9.2" text-anchor="end" font-weight="normal" fill="#111" >3.5</text>
<line x1="376.4" y1="505.1" x2="380.6" y2="505.1" stroke="#111" stroke-width="1.2" />
<text x="370.9" y="505.8" font-size="9.2" text-anchor="end" font-weight="normal" fill="#111" >4</text>
<text transform="translate(351.3 578.8) rotate(-90)" font-size="9.7" text-anchor="middle" fill="#111" textLength="73.6" lengthAdjust="spacingAndGlyphs">ATF4 mRNA level</text>
<text transform="translate(358.3 578.8) rotate(-90)" font-size="7.7" text-anchor="middle" fill="#111" textLength="132.9" lengthAdjust="spacingAndGlyphs">(normalized on GAPDH mRNA level)</text>
<path d="M424.4 521.7 V511.9 H494 V521.7" fill="none" stroke="#111" stroke-width="1.15"/>
<text x="457.4" y="510.38" font-size="9.2" text-anchor="middle" font-weight="normal" fill="#111" >*</text>
<path d="M402.5 541.7 V531.6 H472.8 V541.7" fill="none" stroke="#111" stroke-width="1.15"/>
<text x="436.5" y="531.28" font-size="9.2" text-anchor="middle" font-weight="normal" fill="#111" >*</text>
<text x="398.3" y="666.6" font-size="8.6" textLength="12.2" lengthAdjust="spacingAndGlyphs" fill="#111">WT</text>
<text x="413.4" y="666.6" font-size="8.3" text-anchor="start" fill="#111">p66shc<tspan font-size="7" dy="-3.1" dx="0" letter-spacing="0.45">-/-</tspan></text>
<text x="466.7" y="666.6" font-size="8.6" textLength="12.2" lengthAdjust="spacingAndGlyphs" fill="#111">WT</text>
<text x="482.4" y="666.6" font-size="8.3" text-anchor="start" fill="#111">p66shc<tspan font-size="7" dy="-3.1" dx="0" letter-spacing="0.45">-/-</tspan></text>
<line x1="462.4" y1="672.9" x2="508.3" y2="672.9" stroke="#111" stroke-width="1.3" />
<text x="485.9" y="681.8" font-size="8.5" text-anchor="middle" textLength="40.8" lengthAdjust="spacingAndGlyphs" fill="#111">EXERCISE</text>
</svg>
</body></html>
